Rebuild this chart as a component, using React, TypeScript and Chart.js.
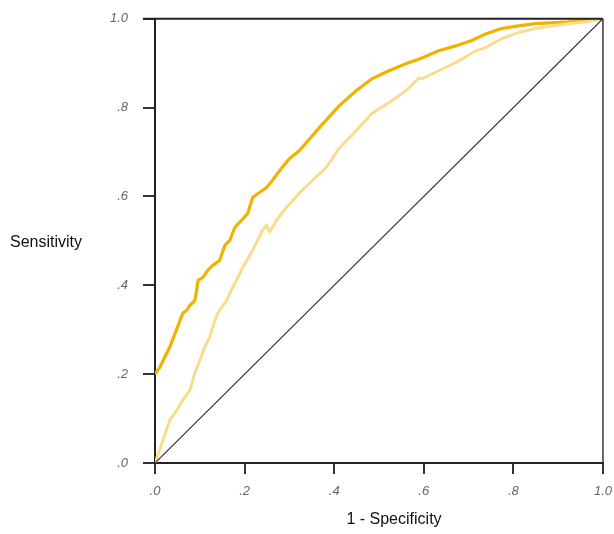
import React, { useEffect, useRef } from "react";
import { Chart, registerables } from "chart.js";

Chart.register(...registerables);

const tickValues = [0, 0.2, 0.4, 0.6, 0.8, 1.0];
const tickLabels = [".0", ".2", ".4", ".6", ".8", "1.0"];

const darkX = [0, 0.011, 0.033, 0.056, 0.062, 0.071, 0.078, 0.089, 0.093, 0.096, 0.107, 0.118, 0.129, 0.144, 0.156, 0.167, 0.178, 0.193, 0.207, 0.218, 0.233, 0.249, 0.262, 0.278, 0.3, 0.322, 0.367, 0.411, 0.449, 0.484, 0.522, 0.56, 0.596, 0.633, 0.671, 0.707, 0.738, 0.773, 0.811, 0.849, 0.884, 0.922, 0.96, 1.0];
const darkY = [0.2, 0.216, 0.261, 0.321, 0.337, 0.344, 0.355, 0.366, 0.389, 0.411, 0.418, 0.434, 0.445, 0.456, 0.49, 0.501, 0.53, 0.546, 0.562, 0.598, 0.609, 0.62, 0.636, 0.658, 0.685, 0.703, 0.755, 0.804, 0.838, 0.865, 0.883, 0.899, 0.912, 0.928, 0.939, 0.951, 0.966, 0.978, 0.984, 0.989, 0.991, 0.993, 0.996, 1.0];

const lightX = [0, 0.018, 0.033, 0.049, 0.062, 0.078, 0.089, 0.1, 0.111, 0.122, 0.129, 0.138, 0.149, 0.16, 0.167, 0.196, 0.218, 0.24, 0.249, 0.256, 0.271, 0.293, 0.322, 0.351, 0.382, 0.411, 0.449, 0.484, 0.522, 0.56, 0.589, 0.596, 0.633, 0.671, 0.716, 0.738, 0.773, 0.811, 0.849, 0.884, 0.922, 0.96, 1.0];
const lightY = [0, 0.052, 0.097, 0.119, 0.142, 0.164, 0.202, 0.231, 0.261, 0.283, 0.306, 0.333, 0.351, 0.366, 0.382, 0.44, 0.479, 0.524, 0.535, 0.521, 0.546, 0.575, 0.607, 0.636, 0.665, 0.708, 0.748, 0.787, 0.811, 0.838, 0.867, 0.865, 0.883, 0.901, 0.928, 0.935, 0.955, 0.969, 0.978, 0.984, 0.989, 0.993, 1.0];

const refX = [0, 1];
const refY = [0, 1];

const yTitle = "Sensitivity";
const xTitle = "1 - Specificity";

const toPoints = (xs: number[], ys: number[]) => xs.map((x, i) => ({ x, y: ys[i] }));

const SHIFT = 4;

const framePlugin = {
  id: "frame",
  afterDraw(chart: any) {
    const { ctx, chartArea } = chart;
    const { left, right, top, bottom } = chartArea;
    ctx.save();
    ctx.strokeStyle = "#222";
    ctx.lineWidth = 2;
    ctx.beginPath();
    ctx.moveTo(left - 12, top);
    ctx.lineTo(right, top);
    ctx.stroke();
    ctx.strokeStyle = "#444";
    ctx.lineWidth = 1.6;
    ctx.beginPath();
    ctx.moveTo(right, top);
    ctx.lineTo(right, bottom);
    ctx.stroke();
    ctx.fillStyle = "#111";
    ctx.font = "16px 'Liberation Sans', Arial, sans-serif";
    ctx.textBaseline = "middle";
    ctx.textAlign = "left";
    ctx.fillText(yTitle, 10, 243 + SHIFT);
    ctx.textAlign = "center";
    ctx.fillText(xTitle, 394, 520 + SHIFT);
    ctx.restore();
  },
};

export default function App() {
  const ref = useRef<HTMLCanvasElement>(null);
  useEffect(() => {
    if (!ref.current) return;
    const tickFont = { family: "'Liberation Sans', Arial, sans-serif", size: 13, style: "italic" as const };
    const chart = new Chart(ref.current, {
      type: "line",
      data: {
        datasets: [
          {
            data: toPoints(refX, refY),
            borderColor: "#333",
            borderWidth: 1.2,
            pointRadius: 0,
          },
          {
            data: toPoints(lightX, lightY),
            borderColor: "#F9DC8E",
            borderWidth: 3,
            pointRadius: 0,
          },
          {
            data: toPoints(darkX, darkY),
            borderColor: "#F0B400",
            borderWidth: 3.2,
            pointRadius: 0,
          },
        ],
      },
      options: {
        responsive: false,
        animation: false,
        layout: { padding: { left: 0, top: 16, right: 9, bottom: 0 } },
        plugins: { legend: { display: false }, tooltip: { enabled: false } },
        scales: {
          x: {
            type: "linear",
            min: 0,
            max: 1,
            afterBuildTicks: (s: any) => {
              s.ticks = tickValues.map((v) => ({ value: v }));
            },
            afterFit: (s: any) => {
              s.height = 71;
            },
            ticks: {
              color: "#666",
              font: tickFont,
              padding: 10,
              maxRotation: 0,
              callback: (v: any) => tickLabels[tickValues.indexOf(Number(v))] ?? "",
            },
            grid: { drawOnChartArea: false, drawTicks: true, tickLength: 11, color: "#333", lineWidth: 2 },
            border: { color: "#222", width: 2 },
          },
          y: {
            type: "linear",
            min: 0,
            max: 1,
            afterBuildTicks: (s: any) => {
              s.ticks = tickValues.map((v) => ({ value: v }));
            },
            afterFit: (s: any) => {
              s.width = 155;
            },
            ticks: {
              color: "#666",
              font: tickFont,
              padding: 15,
              callback: (v: any) => tickLabels[tickValues.indexOf(Number(v))] ?? "",
            },
            grid: { drawOnChartArea: false, drawTicks: true, tickLength: 12, color: "#333", lineWidth: 2 },
            border: { color: "#222", width: 2 },
          },
        },
      },
      plugins: [framePlugin],
    });
    return () => chart.destroy();
  }, []);
  return (
    <div style={{ position: "fixed", left: 0, top: 0, width: 614, height: 534, background: "#fff", overflow: "hidden" }}>
      <canvas ref={ref} width={622} height={538} style={{ display: "block", marginTop: -SHIFT }} />
    </div>
  );
}
